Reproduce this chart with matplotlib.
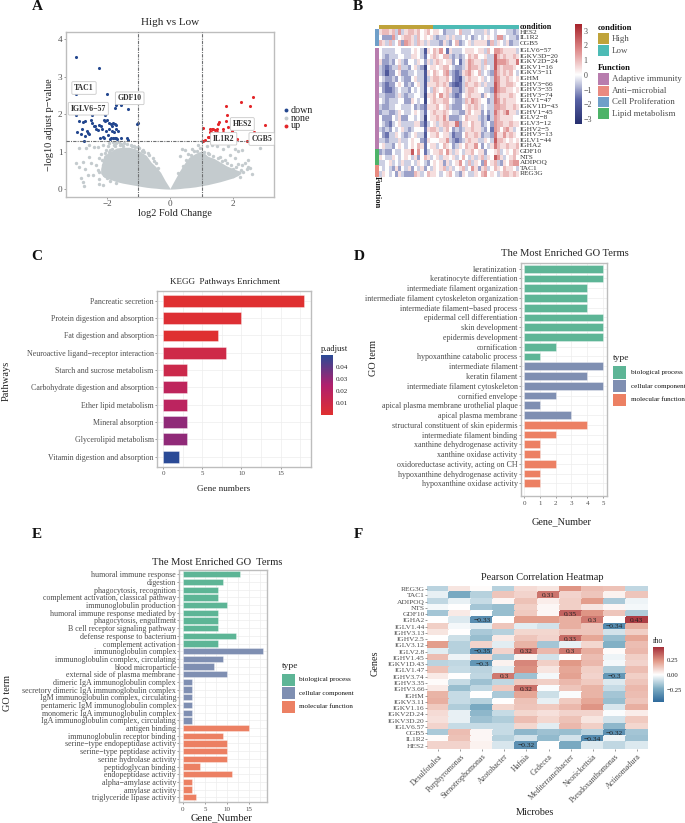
import numpy as np
import matplotlib
matplotlib.use("Agg")
import matplotlib.pyplot as plt
from matplotlib.colors import LinearSegmentedColormap, Normalize, TwoSlopeNorm
from matplotlib.patches import Rectangle

plt.rcParams["font.family"] = ["Liberation Serif", "DejaVu Serif"]

W, H = 685, 823
GREY_TXT = "#4D4D4D"
FRAME = "#BDBDBD"
GRID = "#EDEDED"
TYPE_COLORS = {"bp": "#5DB596", "cc": "#7F8FB2", "mf": "#EC8063"}

# ---- panel A: volcano
down_x = [-2.98, -2.26, -2.98, -2.0, -1.71, -1.56, -1.74, -1.32, -2.98, -2.49, -2.07, -1.03, -1.05,
          -2.88, -2.75, -2.7, -2.52, -2.48, -2.42, -2.37, -2.25, -2.2, -2.1, -2.05, -2.0, -1.95, -1.88, -1.84, -1.8, -1.76, -1.72,
          -2.95, -2.8, -2.62, -2.6, -2.35, -2.27, -2.15, -2.03, -1.92, -1.85, -1.78, -1.7, -1.65,
          -2.83, -2.7, -2.58, -2.22, -2.12, -1.98, -1.87, -1.82, -1.76, -1.72, -1.68, -1.55, -1.38, -1.33, -2.73, -1.9, -2.1, -1.75]
down_y = [3.54, 3.24, 2.53, 2.53, 2.26, 2.26, 2.17, 2.14, 1.99, 1.99, 1.99, 1.77, 1.74,
          1.82, 1.8, 1.83, 1.84, 1.78, 1.7, 1.68, 1.72, 1.68, 1.84, 1.82, 1.85, 1.78, 1.73, 1.68, 1.78, 1.75, 1.72,
          1.53, 1.62, 1.55, 1.5, 1.6, 1.58, 1.6, 1.56, 1.6, 1.55, 1.53, 1.6, 1.55,
          1.48, 1.42, 1.48, 1.38, 1.4, 1.45, 1.36, 1.38, 1.38, 1.36, 1.35, 1.37, 1.36, 1.32, 1.3, 1.34, 1.37, 1.36]
up_x = [1.06, 1.77, 2.26, 2.62, 2.54, 1.81, 1.78, 3.02, 1.56, 1.53, 1.48, 1.38, 1.27, 1.27, 1.31, 1.69, 1.69, 1.5, 1.96,
        1.96, 2.65, 1.19, 1.24, 1.06, 1.1, 2.12, 2.45, 1.96, 1.34, 1.42, 1.85]
up_y = [1.63, 2.23, 2.34, 2.45, 2.23, 1.99, 1.83, 1.71, 1.79, 1.73, 1.62, 1.62, 1.6, 1.53, 1.52, 1.62, 1.52, 1.53, 1.56,
        1.52, 1.52, 1.4, 1.4, 1.3, 1.31, 1.35, 1.3, 1.67, 1.6, 1.58, 1.66]

# outline of the dense grey cloud
cloud_left_x = [-2.2, -2.1, -1.9, -1.7, -1.5, -1.3, -1.1, -0.9, -0.75, -0.6, -0.45, -0.3, -0.15, 0]
cloud_left_hi = [0.55, 0.9, 1.0, 1.1, 1.12, 1.12, 1.08, 0.98, 0.9, 0.72, 0.6, 0.45, 0.22, 0.02]
cloud_left_lo = [0.42, 0.32, 0.26, 0.2, 0.16, 0.13, 0.1, 0.07, 0.05, 0.035, 0.025, 0.012, 0.004, 0]
cloud_right_x = [0, 0.15, 0.3, 0.45, 0.6, 0.8, 1.0, 1.2, 1.4, 1.6, 1.8, 2.0, 2.15, 2.25]
cloud_right_hi = [0.02, 0.25, 0.48, 0.68, 0.85, 0.95, 1.03, 0.88, 0.82, 0.72, 0.62, 0.55, 0.5, 0.48]
cloud_right_lo = [0, 0.005, 0.015, 0.03, 0.04, 0.06, 0.09, 0.12, 0.16, 0.2, 0.25, 0.3, 0.36, 0.42]

none_x = [-2.88, -2.67, -2.98, -2.9, -2.77, -2.69, -2.58, -2.51, -2.45, -2.24, -2.82, -2.77, -2.72, -2.61, -2.24, -2.14,
          -2.4, -2.29, -2.14, -1.92, -1.61, -1.45, -1.24, -0.97, -0.87, -2.19, -2.03, -1.82, -1.71, -1.98, -2.24, -2.56,
          -2.35, -2.14, -2.24, -2.08, -1.9, -1.6, -1.2, -0.9, -0.7, -0.55, -0.45, -1.75, -1.5, -1.1,
          -2.15, -2.05, -2.0, -1.85, -1.78, -1.55, -1.38, -1.15, -1.02, -0.82, -0.66, -0.5, -0.38, -2.3, -2.1, -1.95, -1.9, -1.7,
          0.37, 0.48, 0.58, 0.32, 0.69, 0.9, 1.0, 1.16, 1.32, 1.48, 1.69, 1.85, 2.06, 2.17, 2.28, 1.9, 2.06, 2.17, 2.28,
          2.49, 2.54, 2.46, 2.61, 2.84, 2.43, 2.38, 1.59, 1.75, 2.01, 2.12, 2.22, 0.75, 1.25,
          0.25, 0.4, 0.52, 0.66, 0.85, 0.95, 1.08, 1.22, 1.38, 1.52, 1.66, 1.8, 1.95, 2.1, 2.25, 2.32, 1.72, 2.0]
none_y = [1.09, 1.09, 0.69, 0.6, 0.73, 0.55, 0.86, 0.71, 0.37, 0.46, 0.3, 0.18, 0.08, 0.37, 0.15, 0.11,
          1.13, 1.13, 1.18, 1.22, 1.26, 1.22, 1.19, 1.09, 1.04, 0.95, 1.04, 1.26, 1.22, 1.16, 0.82, 1.18,
          0.64, 0.64, 0.28, 0.37, 1.05, 1.17, 1.14, 1.02, 0.96, 0.82, 0.7, 1.14, 1.16, 1.12,
          0.78, 0.96, 0.3, 1.08, 1.18, 1.2, 1.2, 1.15, 1.12, 1.0, 0.9, 0.76, 0.56, 0.5, 0.42, 0.98, 0.23, 0.16,
          1.07, 1.04, 0.95, 0.89, 1.07, 1.18, 1.29, 1.16, 1.18, 1.16, 1.07, 1.16, 1.07, 1.01, 1.04, 0.91, 0.82, 0.68, 0.64,
          0.77, 0.57, 0.6, 0.4, 1.09, 0.55, 0.69, 0.86, 0.77, 0.55, 0.42, 0.33, 1.02, 0.95,
          0.42, 0.62, 0.78, 0.92, 1.03, 1.1, 1.0, 0.96, 0.88, 0.82, 0.76, 0.7, 0.64, 0.6, 0.52, 0.47, 0.3, 0.36]

volcano_labels = ["TAC1", "GDF10", "IGLV6−57", "HES2", "IL1R2", "CGB5"]
volcano_label_px = [(84, 88), (129.7, 98.3), (88.3, 108.7), (242.3, 124), (223.7, 138.7), (261.7, 139)]

# ---- panel B: z-score heatmap, values in half z units
b_genes = ["HES2", "IL1R2", "CGB5", "IGLV6−57", "IGKV3D−20", "IGKV2D−24", "IGKV1−16", "IGKV3−11", "IGHM",
           "IGHV3−66", "IGHV3−35", "IGHV3−74", "IGLV1−47", "IGKV1D−43", "IGHV1−45", "IGLV2−8", "IGLV3−12",
           "IGHV2−5", "IGHV3−13", "IGLV1−44", "IGHA2", "GDF10", "NTS", "ADIPOQ", "TAC1", "REG3G"]
b_function = ["Cell Proliferation"] * 3 + ["Adaptive immunity"] * 18 + ["Lipid metabolism"] * 3 + ["Anti−microbial"] * 2
b_high_cols = 17
b_low_cols = 27
b_halfz = [
    [1,2,2,1,2,-1,3,-1,1,2, 2,1,2,0,1,2,0, 1,1,0,-2,-1,-1,-1,0,2,-1, -1,-1,0,-1,-1,-1,1,-1,0,-1, 0,0,0,-1,-1,-2,-1],
    [0,-2,-2,-2,3,-1,0,1,2,2, 1,-1,2,0,1,0,1, -1,-2,-1,-1,1,-1,1,-1,-1,0, -1,0,-2,-1,0,-1,0,1,0,-1, 3,3,-1,0,-1,-1,-2],
    [2,1,-1,2,-1,0,2,-2,3,2, 1,-1,2,1,-1,1,-1, -1,-1,-2,1,-1,-2,0,2,-2,-1, 0,1,-1,1,1,1,1,-2,2,-1, 1,0,-1,1,-2,-1,-1],
    [0,-1,-1,-1,-1,0,0,-1,-1,-1, 0,1,0,-1,-4,1,0, 2,1,3,0,-3,1,-1,-1,-1,0, 1,1,1,0,1,1,-1,2,0,3, 3,2,1,1,1,1,-1],
    [0,-1,-2,-1,-1,-1,0,0,-1,-1, 1,1,0,-1,-3,0,1, 2,1,0,2,2,-1,-2,-1,-2,-1, 0,2,1,2,0,0,1,-1,-1,5, 2,1,2,1,1,2,1],
    [1,-2,-2,-1,-2,0,1,-1,-2,0, 0,-1,1,0,-2,1,-1, 1,2,1,0,1,1,-2,0,-3,-1, 1,3,2,1,1,-1,2,-1,-1,5, 3,3,3,2,1,1,4],
    [-1,-2,-3,-2,-1,-1,2,-1,-1,-2, 0,1,-1,-2,-5,0,1, 1,0,1,2,2,0,-1,-2,-2,-1, 1,3,2,2,1,-1,1,0,-1,5, 2,1,2,2,2,1,0],
    [-1,-2,-4,-2,-2,0,1,-2,-2,-1, -1,0,-1,-1,-4,1,0, 2,1,0,2,3,-1,-2,-3,-2,1, 2,3,1,0,2,-1,0,-1,-2,4, 2,1,2,1,2,0,-1],
    [0,-1,-2,-2,-1,-2,0,-1,-2,-2, 0,1,-1,-1,-4,-1,1, 2,2,1,1,2,0,-2,-3,-4,-1, 1,2,1,1,0,1,-1,0,-1,4, 3,1,1,2,1,0,1],
    [-1,-2,-3,-2,-2,0,1,0,-2,-1, -2,0,1,-1,-4,1,1, 1,2,1,2,1,-2,-3,-4,-3,-1, 2,1,1,2,1,-1,1,-1,-1,5, 3,1,1,2,2,1,0],
    [0,-2,-3,-3,-2,-1,0,-1,-1,-2, 0,-1,0,-1,-4,0,-1, 2,1,0,1,2,1,-2,-2,-3,-1, 1,2,2,1,0,0,-1,-1,-2,5, 3,2,2,1,1,0,1],
    [-1,-1,-2,-2,-2,-1,1,-1,-2,-1, -1,0,0,-1,-5,1,1, 2,0,3,1,2,-1,-2,-3,-2,0, 1,2,1,1,1,-2,1,0,-1,4, 2,1,1,1,2,1,0],
    [0,-1,-2,-1,-1,-1,0,0,-2,-2, 1,0,-1,0,-5,0,1, 2,1,1,2,2,0,-1,-2,-2,-1, 2,1,3,2,1,0,0,-2,-1,4, 3,1,2,1,1,1,0],
    [-1,-2,-2,-1,-1,0,0,-1,-1,-1, 0,-2,-1,-2,-3,1,1, 1,2,0,1,2,-1,-2,-2,-2,0, 1,2,1,2,1,-1,0,-1,-1,3, 3,2,2,1,1,2,1],
    [-2,-1,-1,-2,-2,-1,1,0,-1,-1, 0,1,0,-1,-3,0,1, 2,1,1,2,1,0,-1,-1,-2,-2, 1,2,0,1,1,-2,0,-2,-1,4, 2,1,2,4,1,1,-1],
    [0,-2,-2,-2,0,-1,1,-2,-2,0, 0,-1,0,-1,-5,0,1, 1,2,1,3,1,-2,-2,-2,-1,0, 2,1,1,1,-1,-2,-1,-3,-1,3, 2,1,1,1,1,0,0],
    [0,-1,-2,-3,-1,0,1,-1,-1,-1, -1,1,1,-2,-4,-1,0, 1,-1,1,2,2,1,1,4,-2,1, 1,0,2,1,1,-2,-1,0,-2,3, 2,2,1,1,2,1,1],
    [-1,-2,-1,-2,0,-1,0,1,-1,-2, -1,0,0,0,-3,1,2, 2,1,-1,1,2,0,-2,-1,-2,-1, 1,1,2,1,1,-1,-2,0,-3,3, 2,0,2,3,1,-1,0],
    [0,-2,-3,-1,-1,1,0,-1,-2,-1, 0,1,-1,-1,-4,0,1, 1,2,0,1,1,-1,-3,-2,-2,0, 2,1,1,2,1,-2,-1,-1,-2,4, 1,1,3,1,2,1,0],
    [-1,-1,-2,-1,-1,-1,1,-1,-1,0, 1,0,0,-2,-3,1,0, 0,0,1,1,3,-1,-2,-3,-2,-1, 1,2,1,1,-1,-1,1,0,-1,5, 2,2,1,0,1,0,1],
    [0,1,-1,-1,-2,0,1,0,-1,0, 1,0,2,1,-3,0,1, 1,-1,0,2,1,0,-2,-1,1,0, 2,1,1,3,0,-2,0,-1,1,4, 2,1,1,2,1,1,2],
    [-2,-1,-2,-2,0,-1,-1,0,1,1, 5,0,3,0,-3,-1,0, 1,1,2,0,3,1,-1,1,0,-1, 1,1,2,0,1,1,-2,0,0,1, 2,-1,0,1,0,2,1],
    [1,0,-1,-1,1,0,-1,0,1,0, -1,1,-2,0,2,1,-1, 0,1,-1,1,1,0,1,-1,0,2, 0,-1,1,-1,1,2,-1,1,0,5, 3,1,-1,0,1,2,0],
    [-1,-1,0,1,-1,0,-1,1,-1,-1, 0,-1,1,0,-1,-2,0, 1,0,1,-2,1,-1,0,1,3,0, -1,2,-1,1,0,-2,3,0,1,2, -1,-2,1,0,2,3,3],
    [0,-1,0,-1,-2,1,-2,0,-1,1, -2,0,-1,1,-2,0,-1, 1,0,1,2,-1,1,-1,0,1,2, -1,0,3,1,-2,1,2,-1,0,2, 1,0,2,1,1,0,-1],
    [-1,1,0,-1,0,-2,1,-1,-2,-2, -2,2,1,-1,0,2,1, 1,0,-1,0,1,2,0,-1,-2,1, 0,-1,-1,1,0,2,3,0,1,0, -1,1,2,2,1,2,1],
]
function_colors = {"Adaptive immunity": "#B87DAE", "Anti−microbial": "#E98A80",
                   "Cell Proliferation": "#6F9FC9", "Lipid metabolism": "#4DB368"}

# ---- panel C: KEGG
kegg_terms = ["Pancreatic secretion", "Protein digestion and absorption", "Fat digestion and absorption",
              "Neuroactive ligand−receptor interaction", "Starch and sucrose metabolism",
              "Carbohydrate digestion and absorption", "Ether lipid metabolism", "Mineral absorption",
              "Glycerolipid metabolism", "Vitamin digestion and absorption"]
kegg_counts = [18, 10, 7, 8, 3, 3, 3, 3, 3, 2]
kegg_padj = [0.001, 0.002, 0.001, 0.010, 0.011, 0.018, 0.019, 0.031, 0.031, 0.05]

# ---- panel D: GO terms
go_d_terms = ["keratinization", "keratinocyte differentiation", "intermediate filament organization",
              "intermediate filament cytoskeleton organization", "intermediate filament−based process",
              "epidermal cell differentiation", "skin development", "epidermis development", "cornification",
              "hypoxanthine catabolic process", "intermediate filament", "keratin filament",
              "intermediate filament cytoskeleton", "cornified envelope", "apical plasma membrane urothelial plaque",
              "apical plasma membrane", "structural constituent of skin epidermis", "intermediate filament binding",
              "xanthine dehydrogenase activity", "xanthine oxidase activity", "oxidoreductase activity, acting on CH",
              "hypoxanthine dehydrogenase activity", "hypoxanthine oxidase activity"]
go_d_counts = [5, 5, 4, 4, 4, 5, 5, 5, 2, 1, 5, 4, 5, 2, 1, 3, 4, 2, 1, 1, 2, 1, 1]
go_d_types = ["bp"] * 10 + ["cc"] * 6 + ["mf"] * 7

# ---- panel E: GO terms
go_e_terms = ["humoral immune response", "digestion", "phagocytosis, recognition",
              "complement activation, classical pathway", "immunoglobulin production",
              "humoral immune response mediated by", "phagocytosis, engulfment", "B cell receptor signaling pathway",
              "defense response to bacterium", "complement activation", "immunoglobulin complex",
              "immunoglobulin complex, circulating", "blood microparticle", "external side of plasma membrane",
              "dimeric IgA immunoglobulin complex", "secretory dimeric IgA immunoglobulin complex",
              "IgM immunoglobulin complex, circulating", "pentameric IgM immunoglobulin complex",
              "monomeric IgA immunoglobulin complex", "IgA immunoglobulin complex, circulating", "antigen binding",
              "immunoglobulin receptor binding", "serine−type endopeptidase activity", "serine−type peptidase activity",
              "serine hydrolase activity", "peptidoglycan binding", "endopeptidase activity", "alpha−amylase activity",
              "amylase activity", "triglyceride lipase activity"]
go_e_counts = [13, 9, 8, 8, 10, 8, 8, 8, 12, 8, 18, 9, 7, 10, 2, 2, 2, 2, 2, 2, 15, 9, 10, 10, 10, 4, 11, 2, 2, 3]
go_e_types = ["bp"] * 10 + ["cc"] * 10 + ["mf"] * 10

type_names = ["biological process", "cellular component", "molecular function"]

# ---- panel F: correlation heatmap
f_genes = ["REG3G", "TAC1", "ADIPOQ", "NTS", "GDF10", "IGHA2", "IGLV1.44", "IGHV3.13", "IGHV2.5", "IGLV3.12", "IGLV2.8",
           "IGHV1.45", "IGKV1D.43", "IGLV1.47", "IGHV3.74", "IGHV3.35", "IGHV3.66", "IGHM", "IGKV3.11", "IGKV1.16",
           "IGKV2D.24", "IGKV3D.20", "IGLV6.57", "CGB5", "IL1R2", "HES2"]
f_microbes = ["Desulfotalea", "Porphyromonas", "Stenotrophomonas", "Azotobacter", "Hafnia", "Cedecea",
              "Mediterraneibacter", "Neorickettsia", "Pseudoxanthomonas", "Actinomadura"]
f_rho = [
    [-.12, .06, .01, -.13, .08, .06, .24, .15, .14, -.11],
    [-.04, -.24, -.13, .13, .10, .31, .10, .13, .03, .13],
    [-.11, -.04, -.10, .02, .14, .04, .11, .22, -.15, -.03],
    [-.02, 0, -.16, -.18, .11, .02, .11, .06, .02, -.02],
    [-.16, .05, -.01, -.18, .12, .02, .35, .24, .13, -.14],
    [0, -.06, -.33, 0, .22, .22, .18, .30, 0, .43],
    [.11, -.02, -.05, .13, -.05, -.08, .18, .13, -.34, .18],
    [.06, 0, -.15, -.13, .09, .09, .13, .13, -.08, .11],
    [0, -.09, -.18, .05, .13, .10, .33, .20, -.18, .20],
    [.22, -.13, .10, -.05, .17, -.16, -.04, .09, -.22, .15],
    [-.05, -.13, -.35, .10, .32, .16, .30, .18, .01, .16],
    [.15, -.03, .09, -.15, .03, -.08, 0, .15, -.03, .11],
    [-.12, -.11, -.30, .03, .27, .11, .23, .16, -.02, .10],
    [.14, -.10, -.12, -.05, .25, .06, .20, .11, -.14, .15],
    [.05, 0, -.11, .30, -.17, -.02, .21, .10, -.30, .11],
    [.01, -.10, -.17, -.11, .12, .11, .16, .12, -.06, .13],
    [.05, -.18, -.11, .12, .32, -.01, .13, .17, -.10, .16],
    [.17, -.10, 0, -.15, .20, -.09, -.01, .17, -.16, .15],
    [.18, -.10, -.13, 0, .14, -.04, .12, .20, -.18, .13],
    [.12, -.14, -.24, .09, .13, .12, .16, .24, -.07, .18],
    [.08, -.04, -.20, -.10, .09, .07, .10, .10, -.01, .04],
    [.07, -.04, -.17, -.14, .15, .09, .14, .06, -.08, .12],
    [.10, -.10, -.10, -.10, .09, -.05, .16, .11, -.20, .09],
    [-.15, .15, .02, -.10, -.20, -.17, -.18, -.12, -.32, -.16],
    [.01, .14, .02, -.13, -.08, -.19, -.08, -.34, -.03, -.17],
    [.10, .10, .03, -.07, -.32, 0, -.24, -.06, -.11, -.06],
]

fig = plt.figure(figsize=(W / 100, H / 100), dpi=100, facecolor="white")


# helpers working in reference pixels, y going down
def px_axes(left, top, right, bottom):
    return fig.add_axes([left / W, 1 - bottom / H, (right - left) / W, (bottom - top) / H])


def px_text(x, y, s, **kw):
    kw.setdefault("ha", "center")
    kw.setdefault("va", "center")
    return fig.text(x / W, 1 - y / H, s, **kw)


def px_rect(left, top, right, bottom, color):
    fig.add_artist(Rectangle((left / W, 1 - bottom / H), (right - left) / W, (bottom - top) / H,
                             transform=fig.transFigure, facecolor=color, edgecolor="none"))


def style_frame(ax):
    for side in ax.spines.values():
        side.set_color(FRAME)
        side.set_linewidth(1.0)


def type_legend(x, title_y, tops, bottoms, text_x):
    px_text(x, title_y, "type", ha="left", fontsize=6.8, color="#222222")
    for name, key, top, bot in zip(type_names, ["bp", "cc", "mf"], tops, bottoms):
        px_rect(x, top, x + 12.3, bot, TYPE_COLORS[key])
        px_text(text_x, (top + bot) / 2, name, ha="left", fontsize=5.1, color="#111111")


def go_bars(ax, terms, counts, types, xlim, ylim, xticks, minor, bar_h, fs):
    n = len(terms)
    y = np.arange(n)
    ax.barh(y, counts, height=bar_h, color=[TYPE_COLORS[t] for t in types], edgecolor=(1, 1, 1, 0.6),
            linewidth=0.4, zorder=3)
    ax.set_ylim(*ylim)
    ax.set_xlim(*xlim)
    ax.set_yticks(y, terms, fontsize=fs, color=GREY_TXT)
    ax.set_xticks(xticks)
    ax.set_xticks(minor, minor=True)
    ax.tick_params(axis="x", which="major", labelsize=5, colors=GREY_TXT, length=1.5, width=0.4, pad=2)
    ax.tick_params(axis="x", which="minor", length=0)
    ax.tick_params(axis="y", length=1.5, width=0.4, color=GREY_TXT, pad=0.8)
    ax.grid(True, which="both", axis="x", color=GRID, linewidth=0.5, zorder=0)
    ax.grid(True, which="major", axis="y", color=GRID, linewidth=0.5, zorder=0)
    ax.set_axisbelow(True)
    style_frame(ax)


# ---- A
ax = px_axes(66, 32, 274, 197)
ax.fill_between(cloud_left_x, cloud_left_lo, cloud_left_hi, color="#C4CBCE", linewidth=0, zorder=1)
ax.fill_between(cloud_right_x, cloud_right_lo, cloud_right_hi, color="#C4CBCE", linewidth=0, zorder=1)
ax.scatter(none_x, none_y, s=6, color="#C4CBCE", linewidths=0, zorder=1)
ax.scatter(down_x, down_y, s=5, color="#23478F", linewidths=0, zorder=2)
ax.scatter(up_x, up_y, s=5, color="#E3262A", linewidths=0, zorder=2)
for v in [-1, 1]:
    ax.axvline(v, color="#6E7072", lw=0.8, ls=(0, (3, 1, 1, 1)), zorder=3)
ax.axhline(1.3, color="#6E7072", lw=0.8, ls=(0, (3, 1, 1, 1)), zorder=3)
ax.set_xlim(-3.3, 3.3)
ax.set_ylim(-0.21, 4.2)
ax.set_xticks([-2, 0, 2], ["−2", "0", "2"])
ax.set_yticks([0, 1, 2, 3, 4])
ax.tick_params(labelsize=6.6, colors=GREY_TXT, length=1.5, width=0.4, pad=1)
style_frame(ax)
for name, (lx, ly) in zip(volcano_labels, volcano_label_px):
    px_text(lx, ly, name, fontsize=5.6, fontweight="bold", color="#333333", zorder=5,
            bbox=dict(boxstyle="round,pad=0.3,rounding_size=0.15", fc="white", ec="#C8C8C8", lw=0.6))
px_text(170, 22.7, "High vs Low", fontsize=8, color="#222222")
px_text(175, 213.5, "log2 Fold Change", fontsize=7.4, color="#222222")
px_text(50, 125, "−log10 adjust p−value", fontsize=7.4, rotation=90, color="#222222")
for name, col, ly in zip(["down", "none", "up"], ["#23478F", "#C4CBCE", "#E3262A"], [110.3, 118.3, 126]):
    fig.add_artist(plt.Line2D([285.7 / W], [1 - ly / H], marker="o", ms=2.8, color=col, mew=0, ls="none"))
    px_text(290.7, ly, name, ha="left", fontsize=7.2, color="#222222")

# ---- B
z = np.array(b_halfz) * 0.5
heat_cmap = LinearSegmentedColormap.from_list("heat", ["#27306F", "#5A64A6", "#FFFFFF", "#DE8A8A", "#A8242C"])
heat_norm = TwoSlopeNorm(vcenter=0, vmin=-3.33, vmax=3.45)
ncol = b_high_cols + b_low_cols

ax_top = px_axes(379.3, 29.3, 519, 46)
ax_top.imshow(z[:3], aspect="auto", cmap=heat_cmap, norm=heat_norm, interpolation="nearest")
ax_mid = px_axes(379.3, 47.7, 519, 176.7)
ax_mid.imshow(z[3:], aspect="auto", cmap=heat_cmap, norm=heat_norm, interpolation="nearest")
for a in [ax_top, ax_mid]:
    a.set_xticks([])
    a.set_yticks([])
    for side in a.spines.values():
        side.set_visible(False)

cell = (519 - 379.3) / ncol
px_rect(379.3, 25, 379.3 + cell * b_high_cols, 28.8, "#BFA33A")
px_rect(379.3 + cell * b_high_cols, 25, 519, 28.8, "#4DBBB5")
px_text(520, 27, "condition", ha="left", fontsize=5.8, fontweight="bold", color="#111111")

row_h_top = (46 - 29.3) / 3
row_h_mid = (176.7 - 47.7) / 23
for i, (gene, fn) in enumerate(zip(b_genes, b_function)):
    if i < 3:
        top = 29.3 + i * row_h_top
        bot = top + row_h_top
    else:
        top = 47.7 + (i - 3) * row_h_mid
        bot = top + row_h_mid
    px_rect(375, top, 378.7, bot, function_colors[fn])
    px_text(520, (top + bot) / 2, gene, ha="left", fontsize=5.3, color="#333333")
px_text(376.5, 192, "Function", fontsize=6, fontweight="bold", rotation=270, color="#111111")

cax = px_axes(575, 24, 581.7, 124)
cax.imshow(np.linspace(3.45, -3.33, 256)[:, None], aspect="auto", cmap=heat_cmap, norm=heat_norm,
           extent=[0, 1, -3.33, 3.45])
cax.set_xticks([])
cax.yaxis.tick_right()
cax.set_yticks([-3, -2, -1, 0, 1, 2, 3], ["−3", "−2", "−1", "0", "1", "2", "3"])
cax.tick_params(labelsize=5.8, length=0, pad=1.5, colors=GREY_TXT)
for side in cax.spines.values():
    side.set_visible(False)

px_text(597.7, 28.3, "condition", ha="left", fontsize=6.2, fontweight="bold", color="#111111")
for name, col, top, bot in zip(["High", "Low"], ["#BFA33A", "#4DBBB5"], [33.3, 45.3], [44.3, 56]):
    px_rect(597.7, top, 609.3, bot, col)
    px_text(611.7, (top + bot) / 2, name, ha="left", fontsize=6.4, color=GREY_TXT)
px_text(597.7, 68.3, "Function", ha="left", fontsize=6.2, fontweight="bold", color="#111111")
for name, top, bot in zip(function_colors, [73.3, 85.7, 97, 108.3], [85, 96, 107.3, 119]):
    px_rect(597.7, top, 609.3, bot, function_colors[name])
    px_text(611.7, (top + bot) / 2, name, ha="left", fontsize=6.4, color=GREY_TXT)

# ---- C
ax = px_axes(156.7, 290.7, 310.7, 466.7)
padj_cmap = LinearSegmentedColormap.from_list("padj", ["#E03030", "#B0206E", "#2A4A96"])
padj_norm = Normalize(vmin=0.0003, vmax=0.05)
y = np.arange(len(kegg_terms))
ax.barh(y, kegg_counts, height=0.68, color=padj_cmap(padj_norm(kegg_padj)), edgecolor=(1, 1, 1, 0.5),
        linewidth=0.5, zorder=3)
ax.set_ylim(len(kegg_terms) - 1 + 0.58, -0.58)
ax.set_xlim(-0.84, 18.85)
ax.set_yticks(y, kegg_terms, fontsize=5.7, color=GREY_TXT)
ax.set_xticks([0, 5, 10, 15])
ax.set_xticks([2.5, 7.5, 12.5, 17.5], minor=True)
ax.tick_params(axis="x", which="major", labelsize=5, colors=GREY_TXT, length=1.5, width=0.4, pad=1.5)
ax.tick_params(axis="x", which="minor", length=0)
ax.tick_params(axis="y", length=1.5, width=0.4, color=GREY_TXT, pad=0.8)
ax.grid(True, which="both", axis="x", color=GRID, linewidth=0.5, zorder=0)
ax.grid(True, axis="y", color=GRID, linewidth=0.5, zorder=0)
ax.set_axisbelow(True)
style_frame(ax)
px_text(225, 282, "KEGG  Pathways Enrichment", fontsize=6.6, color="#222222")
px_text(224, 489.5, "Gene numbers", fontsize=6.6, color="#222222")
px_text(6, 381, "Pathways", fontsize=7.6, rotation=90, color="#222222")

cax = px_axes(321.3, 355, 333.3, 415)
cax.imshow(np.linspace(0.05, 0.0003, 256)[:, None], aspect="auto", cmap=padj_cmap, norm=padj_norm,
           extent=[0, 1, 0.0003, 0.05])
cax.set_xticks([])
cax.yaxis.tick_right()
cax.set_yticks([0.01, 0.02, 0.03, 0.04], ["0.01", "0.02", "0.03", "0.04"])
cax.tick_params(labelsize=5, length=0, pad=1.5, colors="#222222")
for side in cax.spines.values():
    side.set_visible(False)
px_text(321, 349, "p.adjust", ha="left", fontsize=6.2, color="#222222")

# ---- D
ax = px_axes(520.7, 263.3, 606.7, 496)
go_bars(ax, go_d_terms, go_d_counts, go_d_types, (-0.21, 5.23), (23.3, -0.55), [0, 1, 2, 3, 4, 5], [], 0.79, 5.8)
px_text(565, 254, "The Most Enriched GO Terms", fontsize=7.6, color="#222222")
px_text(561.7, 521.7, "Gene_Number", fontsize=7.4, color="#222222")
px_text(374, 358, "GO term", fontsize=7.4, rotation=90, color="#222222")
type_legend(613.3, 358, [366, 379.7, 393.7], [379, 392.3, 405.7], 630.7)

# ---- E
ax = px_axes(179.3, 570, 266.7, 802.3)
go_bars(ax, go_e_terms, go_e_counts, go_e_types, (-0.77, 18.9), (29.65, -0.56), [0, 5, 10, 15],
        [2.5, 7.5, 12.5, 17.5], 0.82, 5.8)
px_text(217, 562.7, "The Most Enriched GO  Terms", fontsize=7.6, color="#222222")
px_text(221.5, 818, "Gene_Number", fontsize=7.6, color="#222222")
px_text(8, 693, "GO term", fontsize=7.4, rotation=90, color="#222222")
type_legend(282.3, 665.7, [673.7, 687, 700.7], [686, 699.3, 712.7], 299)

# ---- F
rho = np.array(f_rho)
rho_cmap = LinearSegmentedColormap.from_list("rho", ["#2E6A9B", "#7FAEC4", "#FFFFFF", "#E29A88", "#A5303A"])
rho_norm = TwoSlopeNorm(vcenter=0, vmin=-0.45, vmax=0.46)
ax = px_axes(427.3, 586, 647.7, 748.7)
ax.pcolormesh(rho, cmap=rho_cmap, norm=rho_norm, edgecolors="face", linewidth=0.1)
ax.set_ylim(len(f_genes), 0)
ax.set_yticks(np.arange(len(f_genes)) + 0.5, f_genes, fontsize=5.4, color=GREY_TXT)
ax.set_xticks(np.arange(len(f_microbes)) + 0.5)
ax.set_xticklabels(f_microbes, fontsize=5.8, color=GREY_TXT, rotation=45, ha="right", rotation_mode="anchor")
ax.tick_params(axis="y", length=1.2, width=0.4, color=GREY_TXT, pad=0.6)
ax.tick_params(axis="x", length=1.2, width=0.4, color=GREY_TXT, pad=1.5)
for side in ax.spines.values():
    side.set_visible(False)
for i in range(rho.shape[0]):
    for j in range(rho.shape[1]):
        if abs(rho[i, j]) >= 0.3:
            ax.text(j + 0.5, i + 0.5, f"{rho[i, j]:g}".replace("-", "−"), ha="center", va="center",
                    fontsize=5.4, color="#222222")
px_text(542, 578, "Pearson Correlation Heatmap", fontsize=7.5, color="#222222")
px_text(535, 812.7, "Microbes", fontsize=7.4, color="#222222")
px_text(375, 663, "Genes", fontsize=7.4, rotation=90, color="#222222")

cax = px_axes(653.3, 647, 664.3, 701.7)
cax.imshow(np.linspace(0.46, -0.45, 256)[:, None], aspect="auto", cmap=rho_cmap, norm=rho_norm,
           extent=[0, 1, -0.45, 0.46])
cax.set_xticks([])
cax.yaxis.tick_right()
cax.set_yticks([-0.25, 0, 0.25], ["−0.25", "0.00", "0.25"])
cax.tick_params(labelsize=4.8, length=0, pad=1.5, colors="#222222")
for side in cax.spines.values():
    side.set_visible(False)
px_text(653, 641, "rho", ha="left", fontsize=5.6, color="#222222")

# ---- panel letters
letters = ["A", "B", "C", "D", "E", "F"]
letter_px = [(37, 6), (358, 6), (37, 257), (359, 257), (37, 535), (358, 535)]
for name, (lx, ly) in zip(letters, letter_px):
    px_text(lx, ly, name, fontsize=11, fontweight="bold", color="#111111")

fig.savefig("out.png", dpi=100)
